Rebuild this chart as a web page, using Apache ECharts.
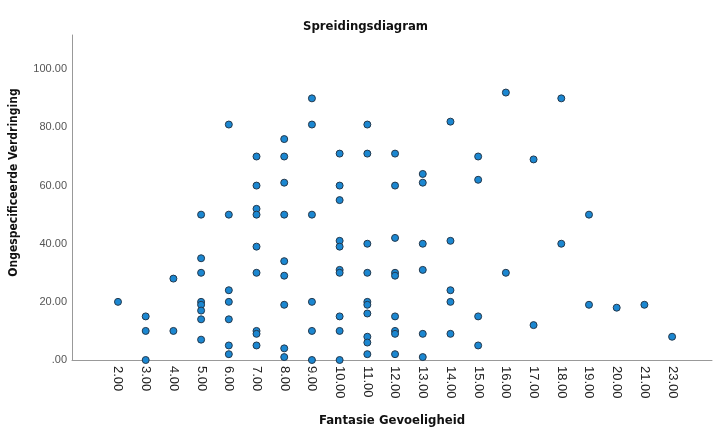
<!DOCTYPE html>
<html>
<head>
<meta charset="utf-8">
<script src="https://cdn.jsdelivr.net/npm/echarts@6/dist/echarts.min.js"></script>
<style>
  html, body { margin: 0; padding: 0; background: #fff; }
  #chart { width: 713px; height: 430px; }
</style>
</head>
<body>
<div id="chart"></div>
<script>
// x axis categories (22.00 does not occur, so it is skipped)
var xLabels = ["2.00", "3.00", "4.00", "5.00", "6.00", "7.00", "8.00", "9.00", "10.00", "11.00",
  "12.00", "13.00", "14.00", "15.00", "16.00", "17.00", "18.00", "19.00", "20.00", "21.00", "23.00"];
var yTicks = [0, 20, 40, 60, 80, 100];

// Fantasie Gevoeligheid
var fantasie = [
  2,
  3, 3, 3,
  4, 4,
  5, 5, 5, 5, 5, 5, 5, 5,
  6, 6, 6, 6, 6, 6, 6,
  7, 7, 7, 7, 7, 7, 7, 7, 7,
  8, 8, 8, 8, 8, 8, 8, 8, 8,
  9, 9, 9, 9, 9, 9,
  10, 10, 10, 10, 10, 10, 10, 10, 10, 10,
  11, 11, 11, 11, 11, 11, 11, 11, 11, 11,
  12, 12, 12, 12, 12, 12, 12, 12, 12,
  13, 13, 13, 13, 13, 13,
  14, 14, 14, 14, 14,
  15, 15, 15, 15,
  16, 16,
  17, 17,
  18, 18,
  19, 19,
  20,
  21,
  23
];
// Ongespecificeerde Verdringing
var verdringing = [
  20,
  15, 10, 0,
  28, 10,
  50, 35, 30, 20, 19, 17, 14, 7,
  81, 50, 24, 20, 14, 5, 2,
  70, 60, 52, 50, 39, 30, 10, 9, 5,
  76, 70, 61, 50, 34, 29, 19, 4, 1,
  90, 81, 50, 20, 10, 0,
  71, 60, 55, 41, 39, 31, 30, 15, 10, 0,
  81, 71, 40, 30, 20, 19, 16, 8, 6, 2,
  71, 60, 42, 30, 29, 15, 10, 9, 2,
  64, 61, 40, 31, 9, 1,
  82, 41, 24, 20, 9,
  70, 62, 15, 5,
  92, 30,
  69, 12,
  90, 40,
  50, 19,
  18,
  19,
  8
];

var points = fantasie.map(function (f, i) {
  return [xLabels.indexOf(f.toFixed(2)), verdringing[i]];
});

var boldFont = "'Liberation Sans Narrow', 'DejaVu Sans Condensed', sans-serif";

var chart = echarts.init(document.getElementById("chart"));
chart.setOption({
  animation: false,
  title: {
    text: "Spreidingsdiagram",
    left: 298,
    top: 15,
    textStyle: { fontFamily: boldFont, fontWeight: "bold", fontSize: 13, color: "#111" }
  },
  grid: { left: 72, top: 35, right: 1, bottom: 70, containLabel: false, outerBoundsMode: "none" },
  xAxis: {
    type: "value",
    min: -1.66,
    max: 21.44,
    name: "Fantasie Gevoeligheid",
    nameLocation: "middle",
    nameGap: 54,
    nameMoveOverlap: false,
    nameTextStyle: { fontFamily: boldFont, fontWeight: "bold", fontSize: 13, color: "#111" },
    axisLine: { show: true, onZero: false, lineStyle: { color: "#999", width: 1 } },
    axisTick: { show: false },
    splitLine: { show: false },
    axisLabel: {
      customValues: xLabels.map(function (d, i) { return i; }),
      formatter: function (v) { return xLabels[v]; },
      rotate: -90,
      margin: 6,
      fontSize: 13,
      fontFamily: "'Liberation Sans', sans-serif",
      color: "#222"
    }
  },
  yAxis: {
    type: "value",
    min: 0,
    max: 111.8,
    name: "Ongespecificeerde Verdringing",
    nameLocation: "middle",
    nameGap: 52,
    nameTextStyle: { fontFamily: boldFont, fontWeight: "bold", fontSize: 12, color: "#111", padding: [0, 0, 0, 30] },
    axisLine: { show: true, onZero: false, lineStyle: { color: "#999", width: 1 } },
    axisTick: { show: false },
    splitLine: { show: false },
    axisLabel: {
      customValues: yTicks,
      formatter: function (v) { return v === 0 ? ".00" : v.toFixed(2); },
      margin: 5,
      fontSize: 11,
      fontFamily: "'Liberation Sans', sans-serif",
      color: "#555"
    }
  },
  series: [{
    type: "scatter",
    data: points,
    symbol: "circle",
    symbolSize: 7,
    itemStyle: { color: "#1b87d1", borderColor: "#23384c", borderWidth: 1, opacity: 1 }
  }]
});
</script>
</body>
</html>
